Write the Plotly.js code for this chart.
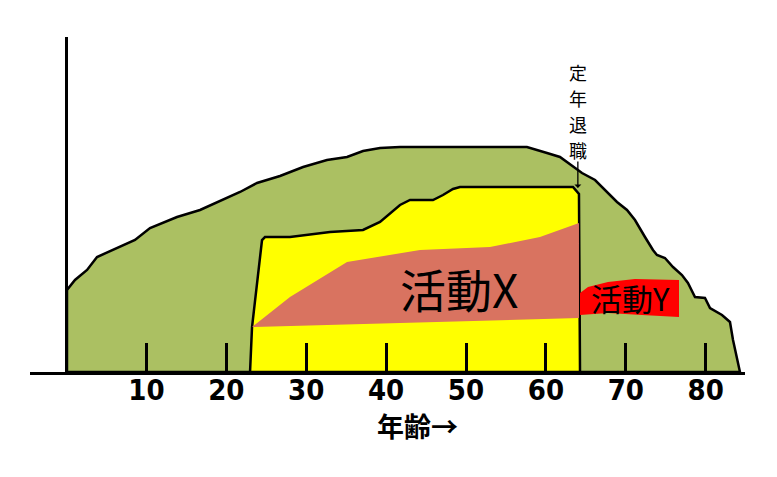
<!DOCTYPE html>
<html>
<head>
<meta charset="utf-8">
<script src="https://cdn.plot.ly/plotly-3.0.1.min.js"></script>
<style>html,body{margin:0;padding:0;background:#fff;}</style>
</head>
<body>
<div id="chart" style="width:777px;height:477px;"></div>
<script>
// Overall life curve (age, level)
const lifeAge = [0.06,0.06,1.06,2.57,3.82,6.32,8.57,10.45,13.83,16.71,19.59,21.72,23.84,26.72,29.61,32.60,35.11,37.11,39.24,41.74,57.63,59.01,60.14,61.76,63.64,64.52,66.15,67.40,68.90,70.15,71.15,72.40,73.40,73.90,74.90,75.91,77.03,77.78,78.66,79.91,80.54,82.04,83.04,83.42,83.92,84.29,0.06];
const lifeLevel = [0,82,92,102,115,124,132,144,155,162,172,180,189,196,205,212,215,221,224,225,225,222,219,215,204,199,192,182,170,162,152,135,122,117,114,105,97,89,75,74,64,57,50,32,12,0,0];

// Working period (yellow)
const workAge = [22.97,23.22,24.47,24.84,27.97,32.98,37.11,39.24,41.74,42.99,45.87,47.12,48.37,49.25,63.39,64.14,64.27,22.97];
const workLevel = [0,45,132,135,135,140,142,150,167,172,172,177,183,185,185,178,0,0];

// Activity X band
const actXAge = [23.22,27.97,35.11,44.24,53.0,59.26,64.14,64.14,23.22];
const actXLevel = [45,75,110,122,125,135,149,54,45];

// Activity Y band
const actYAge = [64.27,65.27,67.77,71.15,76.66,76.66,72.03,67.77,64.27,64.27];
const actYLevel = [79,85,90,93,92,55,57,59,57,79];

const tickVals = [10,20,30,40,50,60,70,80];
const tickText = ['10','20','30','40','50','60','70','80'];

const labelX = '活動X';
const labelY = '活動Y';
const retireChars = ['定','年','退','職'];
const retireCharLevel = [300,274,248,222];
const retireAge = 64.0;
const retireArrowLevel = 184;
const xTitle = '年齢→';

const jp = '"Noto Sans CJK JP", sans-serif';

const traces = [
  {x: lifeAge, y: lifeLevel, type:'scatter', mode:'lines', fill:'toself',
   fillcolor:'#abc062', line:{color:'#000', width:2.5}, hoverinfo:'skip'},
  {x: workAge, y: workLevel, type:'scatter', mode:'lines', fill:'toself',
   fillcolor:'#ffff00', line:{color:'#000', width:2.5}, hoverinfo:'skip'},
  {x: actXAge, y: actXLevel, type:'scatter', mode:'lines', fill:'toself',
   fillcolor:'#d97360', line:{width:0, color:'rgba(0,0,0,0)'}, hoverinfo:'skip'},
  {x: actYAge, y: actYLevel, type:'scatter', mode:'lines', fill:'toself',
   fillcolor:'#ff0000', line:{width:0, color:'rgba(0,0,0,0)'}, hoverinfo:'skip'}
];

const annotations = [
  {x:49.1, y:84, xref:'x', yref:'y', text:labelX, showarrow:false,
   font:{family:jp, size:46, color:'#000'}},
  {x:70.6, y:75, xref:'x', yref:'y', text:labelY, showarrow:false,
   font:{family:jp, size:31, color:'#000'}},
  {x:retireAge, y:retireArrowLevel, xref:'x', yref:'y', text:'', showarrow:true,
   ax:0, ay:-28, arrowhead:1, arrowsize:0.9, arrowwidth:1.3, arrowcolor:'#000'},
  {x:43.9, y:-0.161, xref:'x', yref:'paper', xanchor:'center', yanchor:'middle',
   text:xTitle, showarrow:false,
   font:{family:jp, size:27, color:'#000', weight:'bold'}}
];
retireChars.forEach((c, i) => {
  annotations.push({x:retireAge, y:retireCharLevel[i], xref:'x', yref:'y', text:c,
    showarrow:false, xanchor:'center', yanchor:'middle',
    font:{family:jp, size:18, color:'#000'}});
});

const layout = {
  width:777, height:477,
  margin:{l:30, r:32, t:37, b:105},
  paper_bgcolor:'#fff', plot_bgcolor:'#fff',
  showlegend:false,
  xaxis:{
    range:[-4.57, 84.92], fixedrange:true,
    showgrid:false, zeroline:true, zerolinecolor:'#000', zerolinewidth:3,
    showline:true, linecolor:'#000', linewidth:3,
    ticks:'inside', ticklen:29, tickwidth:3, tickcolor:'#000',
    tickvals:tickVals, ticktext:tickText,
    tickfont:{family:'"DejaVu Sans Condensed", "DejaVu Sans", sans-serif', stretch:'condensed', size:29, color:'#000', weight:'bold'},
    ticklabelstandoff:-10
  },
  yaxis:{range:[0,335], visible:false, fixedrange:true},
  annotations: annotations
};

Plotly.newPlot('chart', traces, layout, {staticPlot:true, displayModeBar:false});
</script>
</body>
</html>
